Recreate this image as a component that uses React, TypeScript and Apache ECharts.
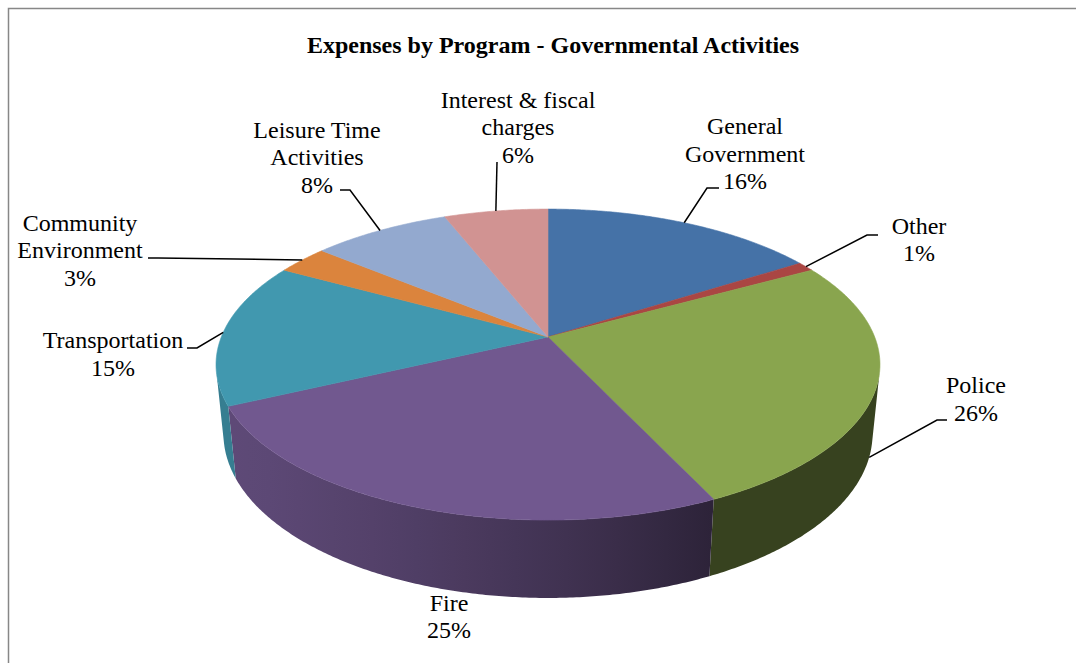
import React, { useEffect, useRef } from "react";
import * as echarts from "echarts";

const title = "Expenses by Program - Governmental Activities";
const categories = [
  "General Government",
  "Other",
  "Police",
  "Fire",
  "Transportation",
  "Community Environment",
  "Leisure Time Activities",
  "Interest & fiscal charges",
];
const values = [16, 1, 26, 25, 15, 3, 8, 6];
const labelLines = [
  "General\nGovernment",
  "Other",
  "Police",
  "Fire",
  "Transportation",
  "Community\nEnvironment",
  "Leisure Time\nActivities",
  "Interest & fiscal\ncharges",
];

// styles / layout (not data)
const colors = ["#4572A7", "#AA4643", "#89A54E", "#71588F", "#4198AF", "#DB843D", "#93A9CF", "#D19392"];
const labelPos = [
  [745, 153.5],
  [919, 239.5],
  [976, 399],
  [449, 616.5],
  [113, 354],
  [80, 250],
  [317, 157],
  [518, 127],
];
const leaderElbow: (number[][] | null)[] = [
  [[719, 188], [707, 188]],
  [[878, 235], [867, 235]],
  [[947, 420], [937, 420]],
  null,
  [[187, 348], [197, 348]],
  [[148, 258], [158, 258]],
  [[340, 190], [350, 190]],
  [[497, 162]],
];
const anchorDepth = [0, 0, 1, 0, 0, 0, 0, 0];

// 3D projection parameters
const CX = 548;
const CY = 337;
const KR = 326.7;
const SIN_P = 0.461;
const COS_P = 0.887;
const PERSP = 0.2; // R / D
const THICK = 0.241; // height / R
const FONT = "Liberation Serif";

function proj(deg: number, depth: number): number[] {
  const t = (deg * Math.PI) / 180;
  const x = Math.cos(t);
  const z = Math.sin(t);
  const y = -THICK * depth;
  const d = z * COS_P + y * SIN_P;
  const u = z * SIN_P - y * COS_P;
  const w = 1 - PERSP * d;
  return [CX + (KR * x) / w, CY + (KR * u) / w];
}

function shade(hex: string, f: number): string {
  const n = parseInt(hex.slice(1), 16);
  const r = Math.round(((n >> 16) & 255) * f);
  const g = Math.round(((n >> 8) & 255) * f);
  const b = Math.round((n & 255) * f);
  return `rgb(${r},${g},${b})`;
}

const VIS = (Math.asin(PERSP / COS_P) * 180) / Math.PI;

function wallFactor(deg: number): number {
  const c = Math.cos(((deg - 155) * Math.PI) / 180);
  return 0.4 + 0.43 * Math.max(0, c);
}

export default function App() {
  const ref = useRef<HTMLDivElement>(null);
  useEffect(() => {
    if (!ref.current) return;
    const chart = echarts.init(ref.current, undefined, { renderer: "svg" });
    const total = values.reduce((s, v) => s + v, 0);

    const renderItem = (params: any, api: any) => {
      const i = params.dataIndex;
      let cum = 0;
      for (let j = 0; j < i; j++) cum += values[j];
      const v = api.value(0);
      const a1 = -90 + (360 * cum) / total;
      const a2 = a1 + (360 * v) / total;
      const children: any[] = [];
      const color = colors[i];

      // side wall (visible front part only), shaded with a horizontal gradient
      const w1 = Math.max(a1, VIS);
      const w2 = Math.min(a2, 180 - VIS);
      if (w2 > w1) {
        const n = Math.max(2, Math.ceil((w2 - w1) / 0.5));
        const top: number[][] = [];
        const bot: number[][] = [];
        for (let k = 0; k <= n; k++) {
          const a = w1 + ((w2 - w1) * k) / n;
          top.push(proj(a, 0));
          bot.push(proj(a, 1));
        }
        const xs = [...top, ...bot].map((p) => p[0]);
        const xMin = Math.min(...xs);
        const xMax = Math.max(...xs);
        const stops: any[] = [];
        const m = 12;
        for (let k = 0; k <= m; k++) {
          const a = w2 - ((w2 - w1) * k) / m;
          const px = proj(a, 0.5)[0];
          const off = xMax > xMin ? (px - xMin) / (xMax - xMin) : 0;
          stops.push({ offset: Math.min(1, Math.max(0, off)), color: shade(color, wallFactor(a)) });
        }
        stops.sort((p, q) => p.offset - q.offset);
        const grad = new echarts.graphic.LinearGradient(xMin, 0, xMax, 0, stops, true);
        children.push({
          type: "polygon",
          shape: { points: [...top, ...bot.reverse()] },
          style: { fill: grad },
          z2: 1,
        });
      }

      // top face
      const pts: number[][] = [[CX, CY]];
      const steps = Math.max(4, Math.ceil((a2 - a1) / 0.5));
      for (let k = 0; k <= steps; k++) pts.push(proj(a1 + ((a2 - a1) * k) / steps, 0));
      children.push({
        type: "polygon",
        shape: { points: pts },
        style: { fill: color, stroke: color, lineWidth: 0.6 },
        z2: 2,
      });

      // leader line
      const mid = (a1 + a2) / 2;
      const elbow = leaderElbow[i];
      if (elbow) {
        const anchor = proj(mid, anchorDepth[i]);
        children.push({
          type: "polyline",
          shape: { points: [...elbow, anchor] },
          style: { stroke: "#000", lineWidth: 1.5, fill: null },
          z2: 10,
        });
      }

      // label
      children.push({
        type: "text",
        x: labelPos[i][0],
        y: labelPos[i][1],
        style: {
          text: `${labelLines[i]}\n${Math.round((100 * v) / total)}%`,
          fontFamily: FONT,
          fontSize: 24,
          lineHeight: 27.5,
          fill: "#000",
          align: "center",
          verticalAlign: "middle",
        },
        z2: 11,
      });

      return { type: "group", children };
    };

    chart.setOption({
      animation: false,
      backgroundColor: "#fff",
      title: {
        text: title,
        left: 548,
        top: 28,
        textAlign: "center",
        textStyle: { fontFamily: FONT, fontSize: 24, fontWeight: "bold", color: "#000" },
      },
      graphic: [
        {
          type: "rect",
          shape: { x: 8.5, y: 8.5, width: 1200, height: 800 },
          style: { fill: "none", stroke: "#878787", lineWidth: 1.5 },
          silent: true,
        },
      ],
      series: [
        {
          type: "custom",
          coordinateSystem: "none",
          silent: true,
          renderItem,
          data: values.map((v, i) => ({ value: v, name: categories[i] })),
        },
      ],
    });
    return () => chart.dispose();
  }, []);
  return (
    <div
      ref={ref}
      style={{ position: "absolute", left: 0, top: 0, width: 1076, height: 663, background: "#fff" }}
    />
  );
}
